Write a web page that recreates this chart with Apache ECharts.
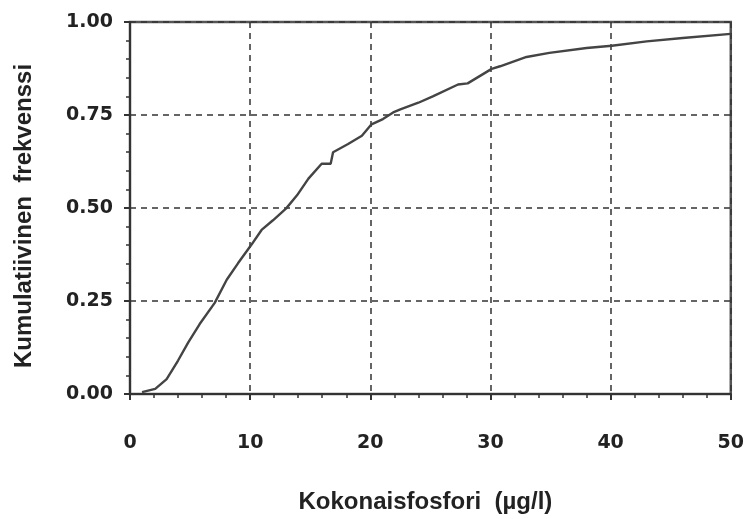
<!DOCTYPE html>
<html><head><meta charset="utf-8">
<script src="https://cdn.jsdelivr.net/npm/echarts@6/dist/echarts.min.js"></script>
<style>html,body{margin:0;padding:0;background:#fff}#c{width:747px;height:519px}</style>
</head><body><div id="c"></div>
<script>
const xValues = [1.0, 2.1, 3.05, 4.0, 4.85, 5.8, 7.05, 8.05, 9.0, 10.1, 10.95, 11.9, 13.0, 13.9, 14.85, 15.95, 16.7, 16.9, 18.15, 19.3, 20.1, 21.05, 21.9, 22.5, 24.0, 25.2, 27.3, 28.1, 30.1, 30.8, 33.0, 34.9, 38.0, 40.1, 43.0, 46.0, 50.0];
const yValues = [0.005, 0.014, 0.04, 0.09, 0.139, 0.188, 0.245, 0.307, 0.352, 0.401, 0.441, 0.467, 0.499, 0.534, 0.579, 0.619, 0.619, 0.65, 0.672, 0.694, 0.725, 0.739, 0.757, 0.765, 0.783, 0.8, 0.832, 0.835, 0.874, 0.881, 0.906, 0.917, 0.93, 0.936, 0.948, 0.957, 0.968];
const xTicks = [0, 10, 20, 30, 40, 50];
const yTicks = [0.00, 0.25, 0.50, 0.75, 1.00];
const xTitle = 'Kokonaisfosfori  (µg/l)';
const yTitle = 'Kumulatiivinen  frekvenssi';

const chart = echarts.init(document.getElementById('c'));
const titleFont = 'Liberation Sans, Arial, sans-serif';
const tickFont = 'DejaVu Sans, sans-serif';
chart.setOption({
  animation: false,
  grid: {left: 130, right: 16, top: 22, bottom: 122, show: true, borderColor: '#555', borderWidth: 2.5, backgroundColor: 'transparent'},
  xAxis: {
    type: 'value', min: xTicks[0], max: xTicks[xTicks.length - 1], interval: 10,
    name: xTitle, nameLocation: 'middle', nameGap: 96,
    nameTextStyle: {fontFamily: titleFont, fontWeight: 'bold', fontSize: 24, color: '#222', padding: [0, 10, 0, 0]},
    axisLine: {show: true, lineStyle: {color: '#333', width: 2}},
    axisTick: {show: true, inside: false, length: 6, lineStyle: {color: '#333', width: 2}},
    minorTick: {show: true, splitNumber: 5, length: 4, lineStyle: {color: '#333', width: 1.5}},
    axisLabel: {margin: 40, fontFamily: tickFont, fontWeight: 'bold', fontSize: 19, color: '#222',
      formatter: v => xTicks.includes(v) ? String(v) : ''},
    splitLine: {show: true, lineStyle: {color: '#333', type: [6, 5], width: 1.5}}
  },
  yAxis: {
    type: 'value', min: yTicks[0], max: yTicks[yTicks.length - 1], interval: 0.25,
    name: yTitle, nameLocation: 'middle', nameGap: 94,
    nameTextStyle: {fontFamily: titleFont, fontWeight: 'bold', fontSize: 24, color: '#222', padding: [0, 16, 0, 0]},
    axisLine: {show: true, lineStyle: {color: '#333', width: 2}},
    axisTick: {show: true, inside: false, length: 6, lineStyle: {color: '#333', width: 2}},
    minorTick: {show: true, splitNumber: 5, length: 4, lineStyle: {color: '#333', width: 1.5}},
    axisLabel: {margin: 17, fontFamily: tickFont, fontWeight: 'bold', fontSize: 19, color: '#222',
      padding: [6, 0, 0, 0],
      formatter: v => v.toFixed(2)},
    splitLine: {show: true, lineStyle: {color: '#333', type: [6, 5], width: 1.5}}
  },
  series: [{
    type: 'line', data: xValues.map((x, i) => [x, yValues[i]]),
    showSymbol: false, smooth: false,
    lineStyle: {color: '#444', width: 2.4}
  }]
});
</script></body></html>
